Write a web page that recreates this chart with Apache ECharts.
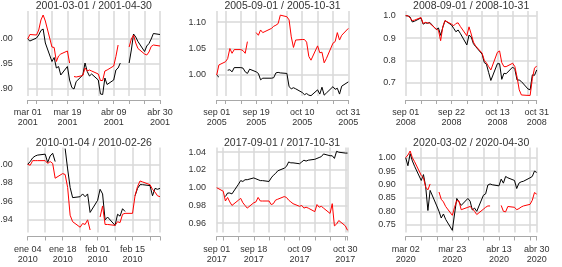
<!DOCTYPE html>
<html>
<head>
<meta charset="utf-8">
<script src="https://cdn.jsdelivr.net/npm/echarts@6/dist/echarts.min.js"></script>
<style>
html, body { margin: 0; padding: 0; background: #fff; }
#main { width: 562px; height: 267px; }
</style>
</head>
<body>
<div id="main"></div>
<script>
// ---- data, one block per panel (values on business days, null = missing) ----

// 2001-03-01 / 2001-04-30
const p1Range = ['2001-03-01', '2001-04-30'];
const p1Black = [
  1.000, 0.996, 1.002, 1.008, 1.017, 1.020, 0.992, 0.955, 0.963, 0.942, 0.945, 0.928, 0.945, 0.918, 0.903, 0.900, 0.915, 0.928, 0.952, 0.935, 0.926, 0.930,
  0.918, 0.890, 0.889, 0.922, 0.909, 0.918, 0.938, 0.942, 0.952, null, 0.952, 0.978, 1.010, 1.004, 0.995, 0.975, 0.986, 0.991, 1.000, 1.011, 1.009
];
const p1Red = [
  1.000, 1.009, 1.008, 1.018, 1.038, 1.048, 1.036, 0.984, 0.983, 0.955, 0.966, 0.970, 0.976, 0.952, null, 0.925, 0.924, 0.927, 0.942, 0.936, 0.938, 0.936,
  0.930, 0.917, 0.917, 0.936, 0.938, 0.946, 0.965, 0.988, null, null, 0.984, 1.000, 1.008, 0.992, 0.981, 0.970, 0.968, 0.974, 0.985, 0.988, 0.986
];
const p1YTicks = ['0.90', '0.95', '1.00'];
const p1XTicks = ['2001-03-01', '2001-03-19', '2001-04-09', '2001-04-30'];
const p1XLabels = ['mar 01\n2001', 'mar 19\n2001', 'abr 09\n2001', 'abr 30\n2001'];

// 2005-09-01 / 2005-10-31
const p2Range = ['2005-09-01', '2005-10-31'];
const p2Black = [
  1.000, 0.996, null, 1.009, 1.010, 1.006, 1.014, 1.014, 1.013, 1.006, 1.003, 1.011, 1.006, 1.003, 0.991, 0.994, 0.994, 0.994, 0.995, 1.004, 1.005, 1.004,
  1.003, 0.978, 0.974, 0.976, 0.974, 0.967, 0.963, 0.965, 0.962, 0.961, 0.972, 0.964, 0.977, 0.962, 0.966, 0.978, 0.973, 0.975, 0.964, 0.979, 0.987
];
const p2Red = [
  1.000, 1.019, 1.025, 1.031, 1.050, 1.041, 1.048, 1.048, 1.046, 1.041, 1.063, null, 1.080, 1.075, 1.085, 1.080, 1.082, 1.088, 1.092, 1.094, 1.097, 1.113,
  1.110, 1.104, 1.072, 1.052, 1.066, 1.067, 1.067, 1.062, 1.035, 1.028, 1.055, 1.042, 1.043, 1.023, 1.031, 1.060, 1.063, 1.080, 1.066, 1.075, 1.088
];
const p2YTicks = ['1.00', '1.05', '1.10'];
const p2XTicks = ['2005-09-01', '2005-09-19', '2005-10-10', '2005-10-31'];
const p2XLabels = ['sep 01\n2005', 'sep 19\n2005', 'oct 10\n2005', 'oct 31\n2005'];

// 2008-09-01 / 2008-10-31
const p3Range = ['2008-09-01', '2008-10-31'];
const p3Black = [
  1.000, 0.999, 0.994, 0.972, 0.975, 0.990, 0.962, 0.968, 0.966, 0.970, 0.938, 0.945, 0.912, 0.948, 0.978, 0.958, 0.943, 0.928, 0.936, 0.921, 0.869, 0.913,
  0.905, 0.875, 0.862, 0.828, 0.790, 0.782, 0.745, 0.710, 0.785, 0.785, 0.715, 0.742, 0.740, 0.770, 0.760, 0.712, 0.712, 0.705, 0.672, 0.668, 0.735, 0.733, 0.757
];
const p3Red = [
  1.000, 1.000, 0.990, 0.978, 0.980, 0.992, 0.965, 0.970, 0.968, 0.966, 0.940, 0.935, 0.888, 0.950, 0.978, 0.962, 0.955, 0.965, 0.968, 0.952, 0.910, 0.950,
  0.918, 0.882, 0.865, 0.832, 0.800, 0.788, 0.772, 0.757, 0.836, 0.842, 0.790, 0.772, 0.772, 0.787, 0.772, 0.725, 0.668, 0.645, 0.643, 0.643, 0.718, 0.765, 0.775
];
const p3YTicks = ['0.7', '0.8', '0.9', '1.0'];
const p3XTicks = ['2008-09-01', '2008-09-22', '2008-10-13', '2008-10-31'];
const p3XLabels = ['sep 01\n2008', 'sep 22\n2008', 'oct 13\n2008', 'oct 31\n2008'];

// 2010-01-04 / 2010-02-26
const p4Range = ['2010-01-04', '2010-02-26'];
const p4Black = [
  1.000, 1.003, 1.007, 1.009, 1.010, 1.011, 1.002, 1.009, 1.012, 1.003, null, 1.017, 0.995, 0.975, 0.964, 0.965, 0.968, 0.965, 0.968, 0.948,
  0.961, 0.973, 0.968, 0.940, 0.943, 0.934, 0.946, 0.944, 0.952, 0.949, null, 0.966, 0.974, 0.978, 0.978, 0.977, 0.966, 0.974, 0.973, 0.974
];
const p4Red = [
  1.000, 0.999, 1.004, 1.004, 1.004, 1.004, 1.001, 1.003, 1.001, 0.985, 0.990, 0.989, 0.975, 0.945, 0.938, 0.932, 0.936, 0.935, 0.940, 0.929,
  null, 0.943, 0.955, 0.935, 0.935, 0.934, 0.938, 0.937, 0.946, 0.947, 0.947, 0.966, 0.976, 0.982, 0.981, 0.978, 0.973, 0.970, 0.966, 0.965
];
const p4YTicks = ['0.94', '0.96', '0.98', '1.00'];
const p4XTicks = ['2010-01-04', '2010-01-18', '2010-02-01', '2010-02-15'];
const p4XLabels = ['ene 04\n2010', 'ene 18\n2010', 'feb 01\n2010', 'feb 15\n2010'];

// 2017-09-01 / 2017-10-31
const p5Range = ['2017-09-01', '2017-10-31'];
const p5Black = [
  1.000, null, 0.990, 0.994, 0.994, 0.993, 1.004, 1.008, 1.007, 1.009, 1.009, 1.011, 1.010, 1.009, 1.008, 1.008, 1.007, 1.011, 1.014, 1.016, 1.019,
  1.022, 1.024, 1.029, 1.028, 1.028, 1.027, 1.029, 1.031, 1.030, 1.031, 1.032, 1.033, 1.034, 1.035, 1.038, 1.036, 1.036, 1.033, 1.041, 1.040, 1.039, 1.039
];
const p5Red = [
  1.000, 0.996, 0.985, 0.989, 0.984, 0.980, 0.986, 0.988, 0.983, 0.980, 0.977, 0.983, 0.984, 0.989, 0.985, 0.985, 0.985, 0.981, 0.982, 0.986, 0.987,
  0.990, 0.989, 0.986, 0.984, 0.982, 0.979, 0.980, 0.977, 0.978, 0.977, 0.973, 0.981, 0.978, 0.979, 0.977, 0.971, 0.982, 0.957, 0.959, 0.963, 0.957, 0.952
];
const p5YTicks = ['0.96', '0.98', '1.00', '1.02', '1.04'];
const p5XTicks = ['2017-09-01', '2017-09-18', '2017-10-09', '2017-10-30'];
const p5XLabels = ['sep 01\n2017', 'sep 18\n2017', 'oct 09\n2017', 'oct 30\n2017'];

// 2020-03-02 / 2020-04-30
const p6Range = ['2020-03-02', '2020-04-30'];
const p6Black = [
  1.000, 0.970, 1.015, 0.988, 0.968, 0.915, 0.937, 0.892, 0.803, 0.878, 0.820, 0.800, 0.775, 0.790, 0.770, 0.729, 0.790, 0.848, 0.835, 0.822, 0.848, 0.838,
  0.805, 0.812, 0.800, 0.860, 0.865, 0.898, 0.902, 0.899, 0.895, 0.920, 0.905, 0.930, 0.925, 0.915, 0.885, 0.905, 0.910, 0.912, 0.925, 0.930, 0.950, 0.945
];
const p6Red = [
  1.000, 1.010, 1.025, 1.000, 0.985, 0.934, 0.925, 0.890, 0.880, 0.902, null, 0.872, 0.845, 0.835, 0.818, 0.785, 0.815, 0.840, 0.838, 0.806, 0.815, 0.818,
  0.810, 0.800, 0.788, 0.808, 0.815, 0.820, 0.820, null, null, 0.822, 0.800, 0.798, 0.818, 0.815, 0.806, 0.810, 0.816, 0.820, 0.826, 0.841, 0.870, 0.864
];
const p6YTicks = ['0.75', '0.80', '0.85', '0.90', '0.95', '1.00'];
const p6XTicks = ['2020-03-02', '2020-03-23', '2020-04-13', '2020-04-30'];
const p6XLabels = ['mar 02\n2020', 'mar 23\n2020', 'abr 13\n2020', 'abr 30\n2020'];

// ---- layout (pixels) ----
const layout = [
  {left: 27.7,  width: 132.3, top: 11,    height: 85, titleTop: 1,     yMin: 0.886,  yMax: 1.056,  yMargin: 15},
  {left: 216.7, width: 131.6, top: 11,    height: 85, titleTop: 1,     yMin: 0.9604, yMax: 1.1208, yMargin: 10.7},
  {left: 405.7, width: 131,   top: 11,    height: 85, titleTop: 1,     yMin: 0.6404, yMax: 1.021,  yMargin: 10},
  {left: 27.7,  width: 132.3, top: 147.5, height: 85, titleTop: 137.5, yMin: 0.9263, yMax: 1.0182, yMargin: 15},
  {left: 216.7, width: 130.8, top: 147.5, height: 85, titleTop: 137.5, yMin: 0.9495, yMax: 1.0453, yMargin: 10.7},
  {left: 405.7, width: 131,   top: 147.5, height: 85, titleTop: 137.5, yMin: 0.721,  yMax: 1.038,  yMargin: 10}
];

const panels = [
  {range: p1Range, black: p1Black, red: p1Red, yTicks: p1YTicks, xTicks: p1XTicks, xLabels: p1XLabels},
  {range: p2Range, black: p2Black, red: p2Red, yTicks: p2YTicks, xTicks: p2XTicks, xLabels: p2XLabels},
  {range: p3Range, black: p3Black, red: p3Red, yTicks: p3YTicks, xTicks: p3XTicks, xLabels: p3XLabels},
  {range: p4Range, black: p4Black, red: p4Red, yTicks: p4YTicks, xTicks: p4XTicks, xLabels: p4XLabels},
  {range: p5Range, black: p5Black, red: p5Red, yTicks: p5YTicks, xTicks: p5XTicks, xLabels: p5XLabels},
  {range: p6Range, black: p6Black, red: p6Red, yTicks: p6YTicks, xTicks: p6XTicks, xLabels: p6XLabels}
];

const FONT = '"Liberation Sans", Arial, sans-serif';
const TEXT = '#333';
const GRID = '#d9d9d9';
const AXIS = '#a8a8a8';
const DAY = 86400000;

// day number since epoch, from 'yyyy-mm-dd'
function dayNum(s) {
  const [y, m, d] = s.split('-').map(Number);
  return Date.UTC(y, m - 1, d) / DAY;
}
// mon-fri between the two ends
function businessDays(range) {
  const out = [];
  for (let d = dayNum(range[0]); d <= dayNum(range[1]); d++) {
    const wd = new Date(d * DAY).getUTCDay();
    if (wd !== 0 && wd !== 6) out.push(d);
  }
  return out;
}
// first day, every monday, last day -> gridlines / ticks
function weekMarks(range) {
  const a = dayNum(range[0]), b = dayNum(range[1]);
  const out = [a];
  for (let d = a + 1; d < b; d++) {
    if (new Date(d * DAY).getUTCDay() === 1) out.push(d);
  }
  out.push(b);
  return out;
}

const option = {
  animation: false,
  backgroundColor: '#fff',
  title: [], grid: [], xAxis: [], yAxis: [], series: []
};

panels.forEach((p, i) => {
  const L = layout[i];
  const days = businessDays(p.range);
  const labelMap = {};
  p.xTicks.forEach((t, k) => { labelMap[dayNum(t)] = p.xLabels[k]; });
  const yVals = p.yTicks.map(Number);

  option.title.push({
    text: p.range[0] + ' / ' + p.range[1],
    left: L.left + L.width / 2,
    top: L.titleTop,
    textAlign: 'center',
    padding: 0,
    textStyle: {fontSize: 10.5, fontWeight: 'normal', color: TEXT, fontFamily: FONT}
  });

  // keep the plot box where it is even if labels run off the canvas
  option.grid.push({
    left: L.left, top: L.top, width: L.width, height: L.height,
    containLabel: false, outerBoundsMode: 'none'
  });

  option.xAxis.push({
    type: 'value',
    gridIndex: i,
    min: dayNum(p.range[0]),
    max: dayNum(p.range[1]),
    offset: 4,
    axisLine: {show: true, lineStyle: {color: AXIS, width: 1}},
    axisTick: {show: true, length: 4, customValues: weekMarks(p.range), lineStyle: {color: AXIS}},
    axisLabel: {
      customValues: p.xTicks.map(dayNum),
      formatter: v => labelMap[v] || '',
      margin: 8, fontSize: 9, lineHeight: 10, color: TEXT, fontFamily: FONT
    },
    splitLine: {show: true, lineStyle: {color: GRID, width: 1.5}}
  });

  option.yAxis.push({
    type: 'value',
    gridIndex: i,
    min: L.yMin,
    max: L.yMax,
    axisLine: {show: false},
    axisTick: {show: false, customValues: yVals},
    axisLabel: {
      customValues: yVals,
      formatter: v => p.yTicks.find(s => Math.abs(Number(s) - v) < 1e-9) || '',
      margin: L.yMargin, fontSize: 9, color: TEXT, fontFamily: FONT
    },
    splitLine: {show: true, lineStyle: {color: GRID, width: 1.5}}
  });

  [['black', p.black, '#000000'], ['red', p.red, '#ff0000']].forEach(([name, vals, col]) => {
    option.series.push({
      name: name,
      type: 'line',
      xAxisIndex: i,
      yAxisIndex: i,
      showSymbol: false,
      symbol: 'none',
      connectNulls: false,
      lineStyle: {color: col, width: 1},
      data: days.map((d, k) => [d, vals[k]])
    });
  });
});

const myChart = echarts.init(document.getElementById('main'), null, {renderer: 'canvas'});
myChart.setOption(option);
</script>
</body>
</html>
